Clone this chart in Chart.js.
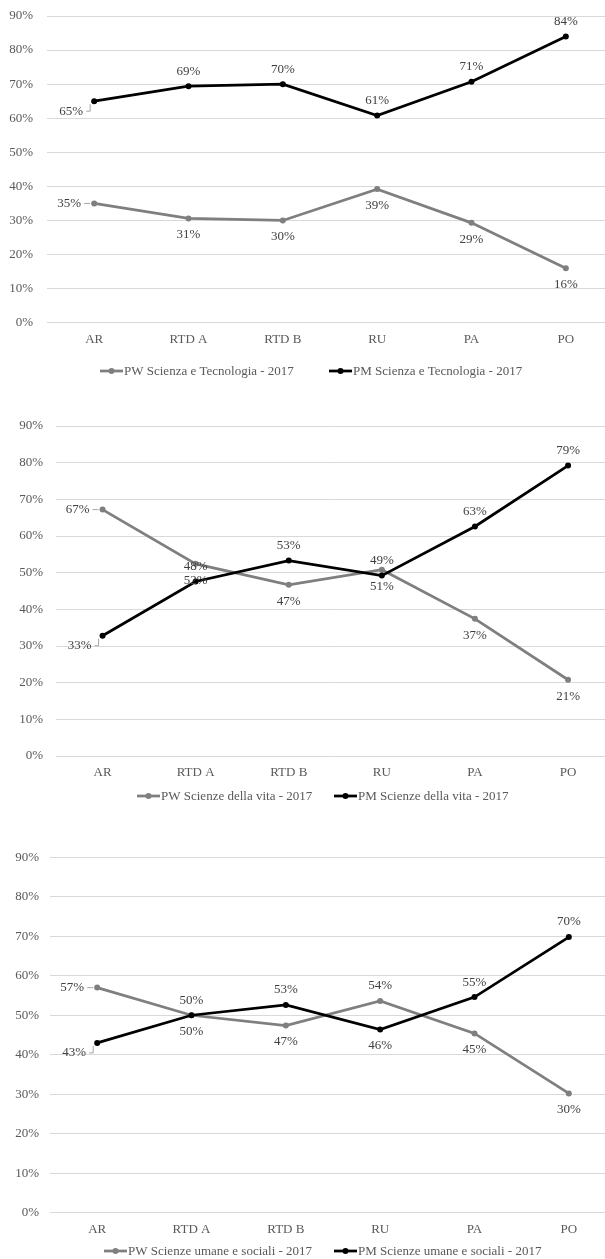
<!DOCTYPE html>
<html>
<head>
<meta charset="utf-8">
<script src="https://cdn.jsdelivr.net/npm/chart.js@4.4.1/dist/chart.umd.min.js"></script>
<style>
  html, body { margin: 0; padding: 0; background: #fff; overflow: hidden; width: 605px; height: 1259px; }
  .box { position: absolute; left: 0; }
  canvas { display: block; }
</style>
</head>
<body>
<div class="box" style="top:-15px"><canvas id="c1" width="620" height="410"></canvas></div>
<div class="box" style="top:395px"><canvas id="c2" width="620" height="420"></canvas></div>
<div class="box" style="top:815px"><canvas id="c3" width="620" height="444"></canvas></div>
<script>
// Academic roles on the x axis
const categories = ['AR', 'RTD A', 'RTD B', 'RU', 'PA', 'PO'];

// Percentage axis
const yMin = 0;
const yMax = 90;
const yStep = 10;

// Scienza e Tecnologia - 2017
const pwTecnologia = [35, 30.6, 30, 39.2, 29.3, 16];
const pmTecnologia = [65, 69.4, 70, 60.8, 70.7, 84];

// Scienze della vita - 2017
const pwVita = [67.2, 52.4, 46.7, 50.8, 37.4, 20.8];
const pmVita = [32.8, 47.6, 53.3, 49.2, 62.6, 79.2];

// Scienze umane e sociali - 2017
const pwUmane = [57, 50, 47.4, 53.6, 45.4, 30.2];
const pmUmane = [43, 50, 52.6, 46.4, 54.6, 69.8];

// Series names
const pwNames = ['PW Scienza e Tecnologia - 2017', 'PW Scienze della vita - 2017', 'PW Scienze umane e sociali - 2017'];
const pmNames = ['PM Scienza e Tecnologia - 2017', 'PM Scienze della vita - 2017', 'PM Scienze umane e sociali - 2017'];

const FONT = '"Liberation Serif", "Times New Roman", serif';
const GREY = '#7f7f7f';
const BLACK = '#000000';
const TEXT = '#595959';

// Draws each value label next to its point, with a leader line for the left-hand ones
const pointLabels = {
  id: 'pointLabels',
  afterDatasetsDraw(chart) {
    const place = chart.options.plugins.pointLabels.place;
    const ctx = chart.ctx;
    ctx.save();
    ctx.font = '13px ' + FONT;
    ctx.fillStyle = '#404040';
    ctx.textBaseline = 'middle';
    chart.data.datasets.forEach((ds, di) => {
      const meta = chart.getDatasetMeta(di);
      meta.data.forEach((pt, i) => {
        const txt = Math.round(ds.data[i]) + '%';
        const where = place[di][i];
        if (where === 'above') {
          ctx.textAlign = 'center';
          ctx.fillText(txt, pt.x, pt.y - 15);
        } else if (where === 'below') {
          ctx.textAlign = 'center';
          ctx.fillText(txt, pt.x, pt.y + 16.5);
        } else if (where === 'left') {
          const right = pt.x - 13;
          ctx.textAlign = 'right';
          ctx.fillText(txt, right, pt.y);
          ctx.strokeStyle = '#a6a6a6';
          ctx.lineWidth = 1;
          ctx.beginPath();
          ctx.moveTo(right + 3, pt.y);
          ctx.lineTo(pt.x - 4, pt.y);
          ctx.stroke();
        } else if (where === 'leftBelow') {
          const right = pt.x - 11;
          const ly = pt.y + 10;
          ctx.textAlign = 'right';
          ctx.fillText(txt, right, ly);
          ctx.strokeStyle = '#a6a6a6';
          ctx.lineWidth = 1;
          ctx.beginPath();
          ctx.moveTo(right + 3, ly);
          ctx.lineTo(pt.x - 4, ly);
          ctx.lineTo(pt.x - 4, pt.y + 3);
          ctx.stroke();
        }
      });
    });
    ctx.restore();
  }
};

// Legend: a short line with a dot, then the series name
const lineLegend = {
  id: 'lineLegend',
  afterDraw(chart) {
    const o = chart.options.plugins.lineLegend;
    const ctx = chart.ctx;
    ctx.save();
    ctx.font = '13px ' + FONT;
    ctx.textBaseline = 'middle';
    ctx.textAlign = 'left';
    chart.data.datasets.forEach((ds, di) => {
      const x = o.xs[di];
      const y = o.y;
      ctx.strokeStyle = ds.borderColor;
      ctx.lineWidth = 2.75;
      ctx.beginPath();
      ctx.moveTo(x, y);
      ctx.lineTo(x + 23, y);
      ctx.stroke();
      ctx.fillStyle = ds.borderColor;
      ctx.beginPath();
      ctx.arc(x + 11.5, y, 3, 0, Math.PI * 2);
      ctx.fill();
      ctx.fillStyle = TEXT;
      ctx.fillText(ds.label, x + 24, y + 1);
    });
    ctx.restore();
  }
};

function makeChart(id, pw, pm, pwName, pmName, cfg) {
  const canvas = document.getElementById(id);
  const W = canvas.width, H = canvas.height;
  const xAxisH = 40;
  return new Chart(canvas, {
    type: 'line',
    data: {
      labels: categories,
      datasets: [
        { label: pwName, data: pw, borderColor: GREY, backgroundColor: GREY, pointBackgroundColor: GREY,
          borderWidth: 2.75, pointRadius: 3, pointBorderWidth: 0, tension: 0, order: 2 },
        { label: pmName, data: pm, borderColor: BLACK, backgroundColor: BLACK, pointBackgroundColor: BLACK,
          borderWidth: 2.75, pointRadius: 3, pointBorderWidth: 0, tension: 0, order: 1 }
      ]
    },
    options: {
      responsive: false,
      maintainAspectRatio: false,
      animation: false,
      devicePixelRatio: 1,
      layout: { padding: { top: cfg.top, right: W - cfg.right, bottom: H - cfg.bottom - xAxisH, left: 0 } },
      scales: {
        x: {
          type: 'category',
          offset: true,
          grid: { display: false, drawTicks: false },
          border: { display: false },
          ticks: { color: TEXT, font: { family: FONT, size: 13 }, padding: 9, maxRotation: 0, autoSkip: false },
          afterFit(scale) { scale.height = xAxisH; }
        },
        y: {
          min: yMin, max: yMax,
          grid: { color: '#d9d9d9', lineWidth: 1, drawTicks: false },
          border: { display: false },
          ticks: { stepSize: yStep, color: TEXT, font: { family: FONT, size: 13 }, padding: cfg.tickPad,
                   callback: v => v + '%' },
          afterFit(scale) { scale.width = cfg.left; }
        }
      },
      plugins: {
        legend: { display: false },
        tooltip: { enabled: false },
        pointLabels: { place: cfg.place },
        lineLegend: { y: cfg.legendY, xs: cfg.legendX }
      }
    },
    plugins: [pointLabels, lineLegend]
  });
}

makeChart('c1', pwTecnologia, pmTecnologia, pwNames[0], pmNames[0], {
  top: 31, bottom: 337.7, left: 47, right: 613, tickPad: 14,
  legendY: 386, legendX: [100, 329],
  place: [
    ['left', 'below', 'below', 'below', 'below', 'below'],
    ['leftBelow', 'above', 'above', 'above', 'above', 'above']
  ]
});

makeChart('c2', pwVita, pmVita, pwNames[1], pmNames[1], {
  top: 31, bottom: 361, left: 56, right: 614.6, tickPad: 13,
  legendY: 401, legendX: [137, 334],
  place: [
    ['left', 'below', 'below', 'below', 'below', 'below'],
    ['leftBelow', 'above', 'above', 'above', 'above', 'above']
  ]
});

makeChart('c3', pwUmane, pmUmane, pwNames[2], pmNames[2], {
  top: 42.3, bottom: 397.7, left: 50, right: 616, tickPad: 11,
  legendY: 436, legendX: [104, 334],
  place: [
    ['left', 'below', 'below', 'above', 'below', 'below'],
    ['leftBelow', 'above', 'above', 'below', 'above', 'above']
  ]
});
</script>
</body>
</html>
